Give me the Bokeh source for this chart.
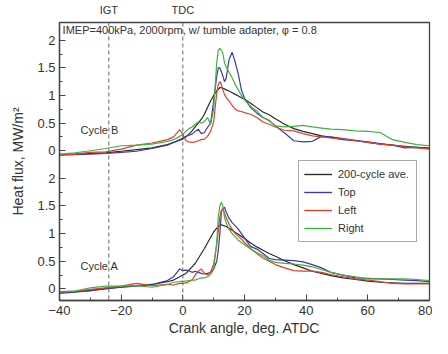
from bokeh.plotting import figure
from bokeh.models import (Range1d, FixedTicker, LinearAxis, Span, Label,
                          Legend, LegendItem)
from bokeh.embed import file_html
from bokeh.resources import INLINE

# ---------------- data ----------------
ANGLE = [-40, -35, -30, -25, -20, -15, -10, -5, -3, -1,
         0, 1, 2, 3, 4, 5, 6, 7, 8, 9, 10,
         11, 11.5, 12, 12.5, 13, 13.5, 14,
         15, 16, 17, 18, 19, 20,
         22, 24, 26, 28, 30,
         33, 36, 39, 42, 45, 48,
         52, 56, 60, 64, 68, 72, 76, 80]

# Cycle B (upper panel)
B_AVE = [-0.07, -0.06, -0.05, -0.04, -0.01, 0.02, 0.05, 0.11, 0.15, 0.19,
         0.21, 0.25, 0.30, 0.36, 0.43, 0.50, 0.57, 0.66, 0.78, 0.90, 1.00,
         1.08, 1.11, 1.14, 1.14, 1.13, 1.12, 1.10,
         1.08, 1.05, 1.02, 0.99, 0.96, 0.93,
         0.86, 0.78, 0.70, 0.65, 0.58,
         0.48, 0.40, 0.35, 0.31, 0.27, 0.24,
         0.20, 0.18, 0.15, 0.12, 0.10, 0.08, 0.06, 0.04]
B_TOP = [-0.08, -0.07, -0.06, -0.05, -0.03, -0.01, 0.04, 0.10, 0.15, 0.20,
         0.23, 0.26, 0.28, 0.30, 0.35, 0.39, 0.31, 0.33, 0.42, 0.50, 0.90,
         1.35, 1.50, 1.50, 1.43, 1.35, 1.25, 1.30,
         1.65, 1.78, 1.60, 1.38, 1.10, 0.95,
         0.78, 0.68, 0.60, 0.55, 0.45,
         0.32, 0.18, 0.16, 0.17, 0.26, 0.25,
         0.22, 0.19, 0.16, 0.13, 0.10, 0.05, 0.06, 0.05]
B_LEFT = [-0.07, -0.06, -0.03, -0.02, 0.03, 0.10, 0.14, 0.20, 0.25, 0.38,
          0.30, 0.18, 0.16, 0.15, 0.16, 0.18, 0.20, 0.21, 0.26, 0.35, 0.52,
          1.05, 1.20, 1.25, 1.20, 1.10, 1.02, 0.97,
          0.90, 0.82, 0.75, 0.72, 0.71, 0.69,
          0.66, 0.60, 0.52, 0.48, 0.43,
          0.37, 0.36, 0.31, 0.27, 0.25, 0.23,
          0.21, 0.18, 0.15, 0.12, 0.10, 0.07, 0.05, 0.03]
B_RIGHT = [-0.06, -0.04, 0.00, 0.04, 0.09, 0.10, 0.12, 0.17, 0.20, 0.26,
           0.30, 0.35, 0.40, 0.43, 0.48, 0.52, 0.50, 0.53, 0.60, 0.48, 0.75,
           1.60, 1.82, 1.85, 1.82, 1.75, 1.60, 1.52,
           1.42, 1.32, 1.20, 1.10, 1.00, 0.92,
           0.80, 0.72, 0.60, 0.54, 0.45,
           0.43, 0.44, 0.46, 0.43, 0.41, 0.39,
           0.38, 0.36, 0.35, 0.33, 0.20, 0.15, 0.11, 0.09]

# Cycle A (lower panel)
A_AVE = [-0.07, -0.05, -0.03, 0.01, 0.03, 0.06, 0.08, 0.13, 0.16, 0.22,
         0.25, 0.28, 0.34, 0.40, 0.46, 0.55, 0.64, 0.73, 0.83, 0.93, 1.03,
         1.10, 1.13, 1.15, 1.16, 1.15, 1.14, 1.13,
         1.10, 1.06, 1.02, 0.99, 0.95, 0.91,
         0.83, 0.76, 0.70, 0.64, 0.59,
         0.51, 0.44, 0.38, 0.32, 0.28, 0.24,
         0.20, 0.17, 0.14, 0.12, 0.11, 0.10, 0.10, 0.10]
A_TOP = [-0.08, -0.06, -0.03, 0.00, 0.03, 0.05, 0.08, 0.15, 0.22, 0.36,
         0.33, 0.34, 0.33, 0.30, 0.32, 0.30, 0.28, 0.27, 0.28, 0.30, 0.36,
         0.50, 0.70, 1.00, 1.40, 1.45, 1.48, 1.40,
         1.28, 1.20, 1.14, 1.08, 1.00, 0.92,
         0.77, 0.72, 0.64, 0.55, 0.53,
         0.52, 0.51, 0.49, 0.44, 0.38, 0.30,
         0.25, 0.20, 0.19, 0.18, 0.17, 0.16, 0.15, 0.13]
A_LEFT = [-0.05, -0.04, -0.01, 0.02, 0.05, 0.10, 0.06, 0.08, 0.07, 0.10,
          0.10, 0.11, 0.13, 0.16, 0.25, 0.32, 0.36, 0.28, 0.25, 0.30, 0.45,
          0.80, 1.05, 1.30, 1.42, 1.45, 1.38, 1.30,
          1.17, 1.08, 1.00, 0.95, 0.90, 0.84,
          0.73, 0.64, 0.56, 0.50, 0.44,
          0.38, 0.33, 0.32, 0.32, 0.30, 0.26,
          0.22, 0.18, 0.16, 0.13, 0.10, 0.09, 0.09, 0.09]
A_RIGHT = [-0.06, -0.04, 0.02, 0.05, 0.05, 0.06, 0.03, 0.08, 0.12, 0.13,
           0.14, 0.14, 0.15, 0.16, 0.16, 0.18, 0.20, 0.20, 0.22, 0.26, 0.35,
           0.85, 1.30, 1.50, 1.57, 1.50, 1.30, 1.20,
           1.08, 1.00, 0.94, 0.88, 0.84, 0.80,
           0.72, 0.66, 0.60, 0.52, 0.48,
           0.46, 0.45, 0.43, 0.40, 0.35, 0.30,
           0.25, 0.22, 0.18, 0.18, 0.18, 0.18, 0.17, 0.15]

SERIES_NAMES = ["200-cycle ave.", "Top", "Left", "Right"]
SERIES_COLORS = ["#2a2a2a", "#3a3aa8", "#e0402a", "#3cb43c"]

OFFSET = 2.5  # vertical shift of the upper (Cycle B) panel
Y_TICK_VALUES = [0, 0.5, 1, 1.5, 2]
Y_TICK_LABELS = ["0", "0.5", "1", "1.5", "2"]
X_TICKS = [-40, -20, 0, 20, 40, 60, 80]
X_MINOR = [-30, -10, 10, 30, 50, 70]
IGT = -24
TDC = 0

FONT = "Liberation Sans"
TXT = "#333333"

# ---------------- figure ----------------
p = figure(width=432, height=338, output_backend="svg", toolbar_location=None,
           x_range=Range1d(-40, 80), y_range=Range1d(-0.21, 4.82),
           min_border_left=59, min_border_right=3, min_border_top=20,
           min_border_bottom=36)
p.xgrid.visible = False
p.ygrid.visible = False
p.outline_line_color = "#444444"
p.outline_line_width = 1.3
p.background_fill_color = "white"
p.border_fill_color = "white"

# y ticks: two stacked panels
yt_major = Y_TICK_VALUES + [v + OFFSET for v in Y_TICK_VALUES]
yt_minor = [v + 0.25 for v in Y_TICK_VALUES[:-1]] + [v + OFFSET + 0.25 for v in Y_TICK_VALUES[:-1]]
overrides = {}
for v, lab in zip(Y_TICK_VALUES, Y_TICK_LABELS):
    overrides[v] = lab
    overrides[v + OFFSET] = lab
p.yaxis.ticker = FixedTicker(ticks=yt_major, minor_ticks=yt_minor)
p.yaxis.major_label_overrides = overrides
p.xaxis.ticker = FixedTicker(ticks=X_TICKS, minor_ticks=X_MINOR)

for ax in (p.xaxis[0], p.yaxis[0]):
    ax.major_tick_in = 6
    ax.major_tick_out = 0
    ax.minor_tick_in = 3
    ax.minor_tick_out = 0
    ax.axis_line_color = "#444444"
    ax.axis_line_width = 1.3
    ax.major_tick_line_color = "#444444"
    ax.minor_tick_line_color = "#444444"
    ax.major_label_text_font = FONT
    ax.major_label_text_font_size = "13px"
    ax.major_label_text_color = TXT
    ax.axis_label_text_font = FONT
    ax.axis_label_text_font_style = "normal"
    ax.axis_label_text_color = TXT
    ax.axis_label_text_font_size = "14px"
    ax.major_label_standoff = 4

p.xaxis.axis_label = "Crank angle, deg. ATDC"
p.xaxis.major_label_standoff = 5
p.xaxis.axis_label_standoff = 2
p.yaxis.axis_label = "Heat flux, MW/m\u00b2"
p.yaxis.axis_label_standoff = 8

# top axis used for IGT / TDC markers
top = LinearAxis(ticker=FixedTicker(ticks=[IGT, TDC]),
                 major_label_overrides={IGT: "IGT", TDC: "TDC"},
                 major_tick_in=0, major_tick_out=0, minor_tick_in=0, minor_tick_out=0,
                 axis_line_color=None, major_label_standoff=7,
                 major_label_text_font=FONT, major_label_text_font_size="11px",
                 major_label_text_color=TXT)
p.add_layout(top, "above")

for loc in (IGT, TDC):
    p.add_layout(Span(location=loc, dimension="height", line_color="#666666",
                      line_dash="4 3", line_width=1))

# lines
upper = [B_AVE, B_TOP, B_LEFT, B_RIGHT]
lower = [A_AVE, A_TOP, A_LEFT, A_RIGHT]
items = []
for name, col, ub, la in zip(SERIES_NAMES, SERIES_COLORS, upper, lower):
    r1 = p.line(ANGLE, [v + OFFSET for v in ub], line_color=col, line_width=1.2)
    r2 = p.line(ANGLE, la, line_color=col, line_width=1.2)
    items.append(LegendItem(label=name, renderers=[r2, r1]))

legend = Legend(items=items, location=(239, 58), padding=5, spacing=2,
                glyph_width=28, glyph_height=16, label_height=16,
                label_standoff=6, label_width=73, margin=0,
                label_text_font=FONT, label_text_font_size="11px",
                label_text_color=TXT, border_line_color="#555555",
                border_line_width=1.2, background_fill_alpha=1)
p.add_layout(legend)

# annotations
p.add_layout(Label(x=-39, y=4.68, text="IMEP=400kPa, 2000rpm, w/ tumble adapter, \u03c6 = 0.8",
                   text_font=FONT, text_font_size="11px", text_color=TXT,
                   text_baseline="middle"))
p.add_layout(Label(x=-33.2, y=OFFSET + 0.375, text="Cycle B", text_font=FONT,
                   text_font_size="11px", text_color=TXT, text_baseline="middle"))
p.add_layout(Label(x=-33.2, y=0.41, text="Cycle A", text_font=FONT,
                   text_font_size="11px", text_color=TXT, text_baseline="middle"))

open("out.html", "w").write(file_html(p, INLINE))
